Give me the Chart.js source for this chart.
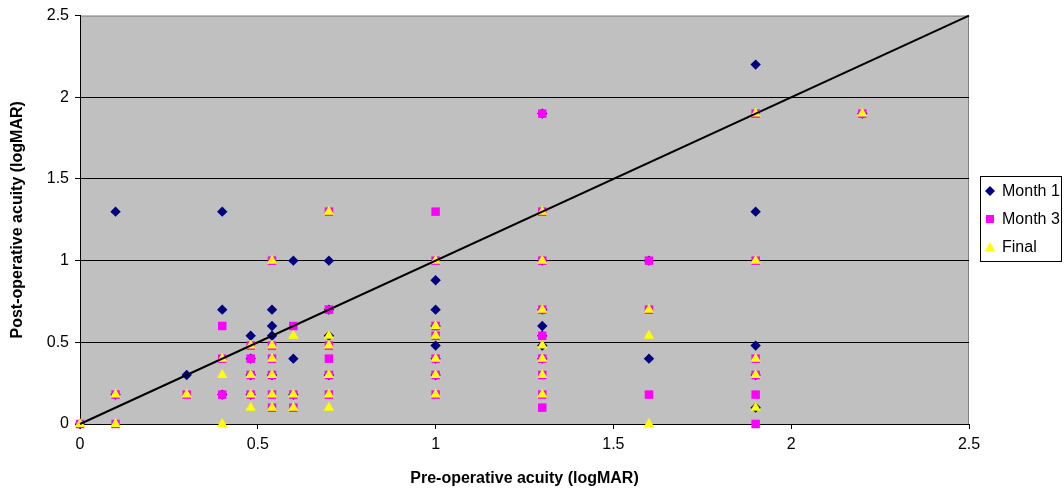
<!DOCTYPE html>
<html>
<head>
<meta charset="utf-8">
<script src="https://cdn.jsdelivr.net/npm/chart.js@4"></script>
<style>
  html, body { margin: 0; padding: 0; background: #ffffff; }
  #wrap { width: 1064px; height: 493px; }
</style>
</head>
<body>
<div id="wrap"><canvas id="c" width="1064" height="493"></canvas></div>
<script>
// ---- Data ----
const seriesNames = ['Month 1', 'Month 3', 'Final'];

const month1Pre  = [0, 0.1, 0.1, 0.3, 0.4, 0.4, 0.4, 0.48, 0.48, 0.48, 0.48,
                    0.54, 0.54, 0.54, 0.54, 0.6, 0.6, 0.6, 0.7, 0.7, 0.7, 0.7,
                    1.0, 1.0, 1.0, 1.0, 1.0, 1.0,
                    1.3, 1.3, 1.3, 1.3, 1.3, 1.3, 1.3,
                    1.6, 1.6, 1.9, 1.9, 1.9, 1.9, 1.9, 2.2];
const month1Post = [0, 1.3, 0.18, 0.3, 1.3, 0.7, 0.18, 0.54, 0.4, 0.3, 0.18,
                    0.7, 0.6, 0.54, 0.3, 1.0, 0.4, 0.18, 1.0, 0.7, 0.54, 0.3,
                    0.88, 0.7, 0.6, 0.48, 0.4, 0.3,
                    1.9, 1.0, 0.7, 0.6, 0.54, 0.48, 0.4,
                    1.0, 0.4, 2.2, 1.3, 0.48, 0.3, 0.1, 1.9];

const month3Pre  = [0, 0.1, 0.1, 0.3, 0.4, 0.4, 0.4, 0.48, 0.48, 0.48, 0.48,
                    0.54, 0.54, 0.54, 0.54, 0.54, 0.54, 0.6, 0.6, 0.6,
                    0.7, 0.7, 0.7, 0.7, 0.7, 0.7,
                    1.0, 1.0, 1.0, 1.0, 1.0, 1.0, 1.0,
                    1.3, 1.3, 1.3, 1.3, 1.3, 1.3, 1.3, 1.3, 1.3,
                    1.6, 1.6, 1.6, 1.9, 1.9, 1.9, 1.9, 1.9, 1.9, 2.2];
const month3Post = [0, 0.18, 0, 0.18, 0.6, 0.4, 0.18, 0.48, 0.4, 0.3, 0.18,
                    1.0, 0.48, 0.4, 0.3, 0.18, 0.1, 0.6, 0.18, 0.1,
                    1.3, 0.7, 0.48, 0.4, 0.3, 0.18,
                    1.3, 1.0, 0.6, 0.54, 0.4, 0.3, 0.18,
                    1.9, 1.3, 1.0, 0.7, 0.54, 0.4, 0.3, 0.18, 0.1,
                    1.0, 0.7, 0.18, 1.9, 1.0, 0.4, 0.3, 0.18, 0, 1.9];

const finalPre  = [0, 0.1, 0.1, 0.3, 0.4, 0.4, 0.4, 0.48, 0.48, 0.48, 0.48,
                   0.54, 0.54, 0.54, 0.54, 0.54, 0.54, 0.6, 0.6, 0.6,
                   0.7, 0.7, 0.7, 0.7, 0.7, 0.7,
                   1.0, 1.0, 1.0, 1.0, 1.0, 1.0,
                   1.3, 1.3, 1.3, 1.3, 1.3, 1.3, 1.3,
                   1.6, 1.6, 1.6, 1.9, 1.9, 1.9, 1.9, 1.9, 2.2];
const finalPost = [0, 0.18, 0, 0.18, 0.4, 0.3, 0, 0.48, 0.3, 0.18, 0.1,
                   1.0, 0.48, 0.4, 0.3, 0.18, 0.1, 0.54, 0.18, 0.1,
                   1.3, 0.54, 0.48, 0.3, 0.18, 0.1,
                   1.0, 0.6, 0.54, 0.4, 0.3, 0.18,
                   1.3, 1.0, 0.7, 0.48, 0.4, 0.3, 0.18,
                   0.7, 0.54, 0, 1.9, 1.0, 0.4, 0.3, 0.1, 1.9];

const identityX = [0, 2.5];
const identityY = [0, 2.5];

const xTickLabels = ['0', '0.5', '1', '1.5', '2', '2.5'];
const yTickLabels = ['0', '0.5', '1', '1.5', '2', '2.5'];

const xTitle = 'Pre-operative acuity (logMAR)';
const yTitle = 'Post-operative acuity (logMAR)';

// ---- Helpers ----
function toPoints(xs, ys) { return xs.map((x, i) => ({ x: x, y: ys[i] })); }

const COLORS = { m1: '#000080', m3: '#FF00FF', fin: '#FFFF00' };
const FONT = "'Liberation Sans', Arial, sans-serif";

Chart.defaults.font.family = FONT;
Chart.defaults.font.size = 16;
Chart.defaults.color = '#000000';

const PLOT = { left: 80, right: 969, top: 13, bottom: 424 };

const bgPlugin = {
  id: 'bgPlugin',
  beforeDraw(chart) {
    const ctx = chart.ctx;
    const a = chart.chartArea;
    ctx.save();
    ctx.fillStyle = '#ffffff';
    ctx.fillRect(0, 0, chart.width, chart.height);
    ctx.fillStyle = '#C0C0C0';
    ctx.fillRect(a.left, a.top, a.right - a.left, a.bottom - a.top);
    ctx.strokeStyle = '#808080';
    ctx.lineWidth = 1;
    ctx.beginPath();
    ctx.moveTo(a.left, a.top + 0.5);
    ctx.lineTo(a.right - 0.5, a.top + 0.5);
    ctx.lineTo(a.right - 0.5, a.bottom);
    ctx.stroke();
    ctx.restore();
  }
};

const legendPlugin = {
  id: 'boxLegend',
  afterDraw(chart) {
    const ctx = chart.ctx;
    const bx = 980, by = 176, bw = 81, bh = 85;
    ctx.save();
    ctx.fillStyle = '#ffffff';
    ctx.fillRect(bx, by, bw, bh);
    ctx.strokeStyle = '#000000';
    ctx.lineWidth = 1;
    ctx.strokeRect(bx + 0.5, by + 0.5, bw, bh);
    const rows = [191, 219, 247];
    const mx = 990;
    // diamond
    ctx.fillStyle = COLORS.m1;
    ctx.beginPath();
    ctx.moveTo(mx - 5, rows[0]);
    ctx.lineTo(mx, rows[0] - 5);
    ctx.lineTo(mx + 5, rows[0]);
    ctx.lineTo(mx, rows[0] + 5);
    ctx.closePath();
    ctx.fill();
    // square
    ctx.fillStyle = COLORS.m3;
    ctx.fillRect(mx - 4, rows[1] - 4, 8, 8);
    // triangle
    ctx.fillStyle = COLORS.fin;
    ctx.beginPath();
    ctx.moveTo(mx, rows[2] - 5);
    ctx.lineTo(mx + 5, rows[2] + 4);
    ctx.lineTo(mx - 5, rows[2] + 4);
    ctx.closePath();
    ctx.fill();
    ctx.fillStyle = '#000000';
    ctx.font = '16px ' + FONT;
    ctx.textBaseline = 'middle';
    ctx.textAlign = 'left';
    seriesNames.forEach((n, i) => ctx.fillText(n, 1002, rows[i] + 1));
    ctx.restore();
  }
};

new Chart(document.getElementById('c'), {
  type: 'scatter',
  data: {
    datasets: [
      {
        label: 'identity',
        data: toPoints(identityX, identityY),
        showLine: true,
        borderColor: '#000000',
        borderWidth: 2,
        pointRadius: 0,
        fill: false,
        order: 0,
        clip: false
      },
      {
        label: seriesNames[0],
        data: toPoints(month1Pre, month1Post),
        pointStyle: 'rectRot',
        pointRadius: 5.2,
        pointBackgroundColor: COLORS.m1,
        pointBorderWidth: 0,
        backgroundColor: COLORS.m1,
        borderColor: COLORS.m1,
        order: 3,
        clip: false
      },
      {
        label: seriesNames[1],
        data: toPoints(month3Pre, month3Post),
        pointStyle: 'rect',
        pointRadius: 6.0,
        pointBackgroundColor: COLORS.m3,
        pointBorderWidth: 0,
        backgroundColor: COLORS.m3,
        borderColor: COLORS.m3,
        order: 2,
        clip: false
      },
      {
        label: seriesNames[2],
        data: toPoints(finalPre, finalPost),
        pointStyle: 'triangle',
        pointRadius: 6.0,
        pointBackgroundColor: COLORS.fin,
        pointBorderWidth: 0,
        backgroundColor: COLORS.fin,
        borderColor: COLORS.fin,
        order: 1,
        clip: false
      }
    ]
  },
  options: {
    responsive: false,
    devicePixelRatio: 1,
    animation: false,
    events: [],
    layout: { padding: { top: PLOT.top, right: 1064 - PLOT.right, left: 0, bottom: 0 } },
    plugins: {
      legend: { display: false },
      tooltip: { enabled: false },
      title: { display: false }
    },
    scales: {
      x: {
        type: 'linear',
        min: 0,
        max: 2.5,
        afterFit(scale) { scale.height = 493 - PLOT.bottom; },
        ticks: {
          stepSize: 0.5,
          padding: 6,
          color: '#000000',
          font: { size: 16 },
          callback: (v, i) => xTickLabels[i]
        },
        grid: {
          drawOnChartArea: false,
          drawTicks: true,
          tickLength: 5,
          tickColor: '#000000'
        },
        border: { display: true, color: '#000000', width: 1 },
        title: {
          display: true,
          text: xTitle,
          font: { size: 16, weight: 'bold' },
          color: '#000000',
          padding: { top: 0, bottom: 5 }
        }
      },
      y: {
        type: 'linear',
        min: 0,
        max: 2.5,
        afterFit(scale) { scale.width = PLOT.left; },
        ticks: {
          stepSize: 0.5,
          padding: 6,
          color: '#000000',
          font: { size: 16 },
          callback: (v, i) => yTickLabels[i]
        },
        grid: {
          color: (ctx) => (ctx.tick && (ctx.tick.value === 2.5 || ctx.tick.value === 0)) ? 'rgba(0,0,0,0)' : '#000000',
          lineWidth: 1,
          drawTicks: true,
          tickLength: 5,
          tickColor: '#000000'
        },
        border: { display: true, color: '#000000', width: 1 },
        title: {
          display: true,
          text: yTitle,
          font: { size: 16, weight: 'bold' },
          color: '#000000',
          padding: { top: 8, bottom: 0 }
        }
      }
    }
  },
  plugins: [bgPlugin, legendPlugin]
});
</script>
</body>
</html>
